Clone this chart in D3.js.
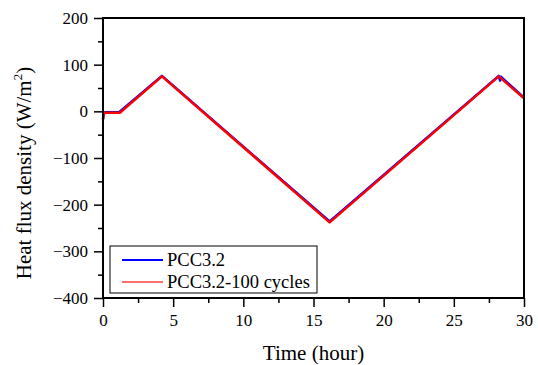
<!DOCTYPE html>
<html>
<head>
<meta charset="utf-8">
<script src="https://cdn.jsdelivr.net/npm/d3@7"></script>
<style>
  body { margin: 0; background: #fff; }
  svg text { font-family: "Liberation Serif", "Times New Roman", serif; fill: #000; }
</style>
</head>
<body>
<script>
// series (time in hours, heat flux in W/m2)
const timeBlue  = [0, 0.05, 0.15, 1.15, 4.2, 16.15, 28.2, 28.3, 28.35, 30];
const fluxBlue  = [-16, -4, -2, -2, 76, -236, 76, 66, 74, 29];
const timeRed   = [0, 0.05, 0.15, 1.2, 4.2, 16.15, 28.2, 30];
const fluxRed   = [-18, -6, -3, -3, 75, -238, 75, 28];
const seriesNames = ["PCC3.2", "PCC3.2-100 cycles"];
const seriesColors = ["#0000ff", "#ff0000"];
const xTicks = [0, 5, 10, 15, 20, 25, 30];
const yTicks = [-400, -300, -200, -100, 0, 100, 200];

const W = 538, H = 365;
const margin = {top: 18, right: 14, bottom: 67, left: 103};
const serif = "'Liberation Serif', 'Times New Roman', serif";

const svg = d3.select("body").append("svg")
    .attr("width", W)
    .attr("height", H);

const x = d3.scaleLinear().domain([0, 30]).range([margin.left, W - margin.right]);
const y = d3.scaleLinear().domain([-400, 200]).range([H - margin.bottom, margin.top]);

// minor ticks
svg.append("g")
    .attr("transform", `translate(0,${y(-400)})`)
    .call(d3.axisBottom(x).tickValues(d3.range(2.5, 30, 5)).tickSize(5).tickFormat(""))
    .call(g => g.select(".domain").remove())
    .selectAll("line").attr("stroke-width", 1.5);
svg.append("g")
    .attr("transform", `translate(${x(0)},0)`)
    .call(d3.axisLeft(y).tickValues(d3.range(-350, 200, 100)).tickSize(5).tickFormat(""))
    .call(g => g.select(".domain").remove())
    .selectAll("line").attr("stroke-width", 1.5);

// major ticks
const xAxis = svg.append("g")
    .attr("transform", `translate(0,${y(-400)})`)
    .call(d3.axisBottom(x).tickValues(xTicks).tickSize(9).tickPadding(7))
    .call(g => g.select(".domain").remove())
    .attr("font-family", serif)
    .attr("font-size", 17);
xAxis.selectAll("line").attr("stroke-width", 1.5);

const yAxis = svg.append("g")
    .attr("transform", `translate(${x(0)},0)`)
    .call(d3.axisLeft(y).tickValues(yTicks).tickSize(9).tickPadding(6))
    .call(g => g.select(".domain").remove())
    .attr("font-family", serif)
    .attr("font-size", 17);
yAxis.selectAll("line").attr("stroke-width", 1.5);

// data lines
const line = d3.line().x(d => x(d[0])).y(d => y(d[1]));
const blueData = d3.zip(timeBlue, fluxBlue);
const redData = d3.zip(timeRed, fluxRed);

svg.append("path")
    .datum(blueData)
    .attr("fill", "none")
    .attr("stroke", seriesColors[0])
    .attr("stroke-width", 2.5)
    .attr("stroke-linejoin", "round")
    .attr("d", line);

svg.append("path")
    .datum(redData)
    .attr("fill", "none")
    .attr("stroke", seriesColors[1])
    .attr("stroke-width", 2.5)
    .attr("stroke-linejoin", "round")
    .attr("d", line);

// frame
svg.append("rect")
    .attr("x", x(0))
    .attr("y", y(200))
    .attr("width", x(30) - x(0))
    .attr("height", y(-400) - y(200))
    .attr("fill", "none")
    .attr("stroke", "#000")
    .attr("stroke-width", 2);

// axis titles
svg.append("text")
    .attr("x", (x(0) + x(30)) / 2)
    .attr("y", 360)
    .attr("text-anchor", "middle")
    .attr("font-size", 21)
    .text("Time (hour)");

const ylab = svg.append("text")
    .attr("transform", `translate(31,173) rotate(-90)`)
    .attr("text-anchor", "middle")
    .attr("font-size", 21);
ylab.append("tspan").text("Heat flux density (W/m");
ylab.append("tspan").attr("font-size", 13).attr("dy", -9).text("2");
ylab.append("tspan").attr("dy", 9).text(")");

// legend
const lg = svg.append("g").attr("transform", "translate(110,246)");
lg.append("rect")
    .attr("width", 207)
    .attr("height", 47)
    .attr("fill", "#fff")
    .attr("stroke", "#000")
    .attr("stroke-width", 1);
seriesNames.forEach((name, i) => {
  const yy = 14 + i * 22;
  lg.append("line")
      .attr("x1", 12).attr("x2", 53)
      .attr("y1", yy).attr("y2", yy)
      .attr("stroke", i === 0 ? seriesColors[0] : "#ff6f6f")
      .attr("stroke-width", i === 0 ? 2 : 1.8);
  lg.append("text")
      .attr("x", 57)
      .attr("y", yy + 6)
      .attr("font-size", 18.5)
      .text(name);
});
</script>
</body>
</html>
